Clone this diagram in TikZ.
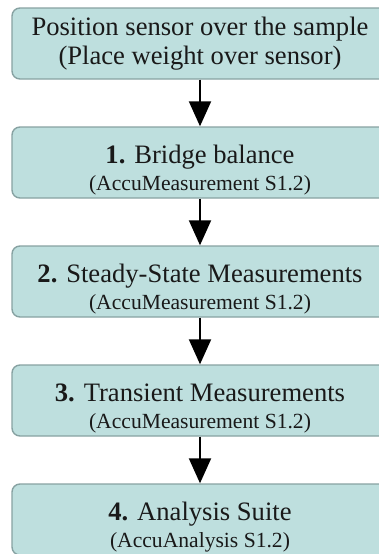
\documentclass[tikz,border=0pt]{standalone}
\usepackage{fontspec}
\setmainfont{Liberation Serif}
\usetikzlibrary{arrows.meta}
\definecolor{boxfill}{RGB}{190,223,222}
\definecolor{boxdraw}{RGB}{135,162,162}
\definecolor{txt}{RGB}{25,25,25}
\newcommand{\subtxt}[1]{{\fontsize{21.6}{26}\selectfont #1}}
\newcommand{\tallstrut}{\rule{0pt}{34pt}}
\tikzset{
  stepbox/.style={draw=boxdraw, line width=1.4pt, fill=boxfill, rounded corners=8pt,
    minimum width=376pt, minimum height=71pt, align=center, text=txt,
    inner sep=0pt, font=\fontsize{26.6}{26}\selectfont},
  flow/.style={line width=2pt, -{Triangle[width=22pt,length=25pt]}}
}
\begin{document}
\begin{tikzpicture}[x=1pt,y=1pt]
\useasboundingbox (0,0) rectangle (379,-554);
\clip (0,0) rectangle (379,-554);
\node[stepbox, font=\fontsize{26.6}{29}\selectfont] (b0) at (200,-43.5) {Position sensor over the sample\\(Place weight over sensor)};
\node[stepbox] (b1) at (200,-162.5) {\tallstrut\textbf{1.} Bridge balance\\[1pt]\subtxt{(AccuMeasurement S1.2)}};
\node[stepbox] (b2) at (200,-281.5) {\tallstrut\textbf{2.} Steady-State Measurements\\[1pt]\subtxt{(AccuMeasurement S1.2)}};
\node[stepbox] (b3) at (200,-400.5) {\tallstrut\textbf{3.} Transient Measurements\\[1pt]\subtxt{(AccuMeasurement S1.2)}};
\node[stepbox] (b4) at (200,-519.5) {\tallstrut\textbf{4.} Analysis Suite\\[1pt]\subtxt{(AccuAnalysis S1.2)}};
\draw[flow] (b0.south) -- (b1.north);
\draw[flow] (b1.south) -- (b2.north);
\draw[flow] (b2.south) -- (b3.north);
\draw[flow] (b3.south) -- (b4.north);
\end{tikzpicture}
\end{document}
